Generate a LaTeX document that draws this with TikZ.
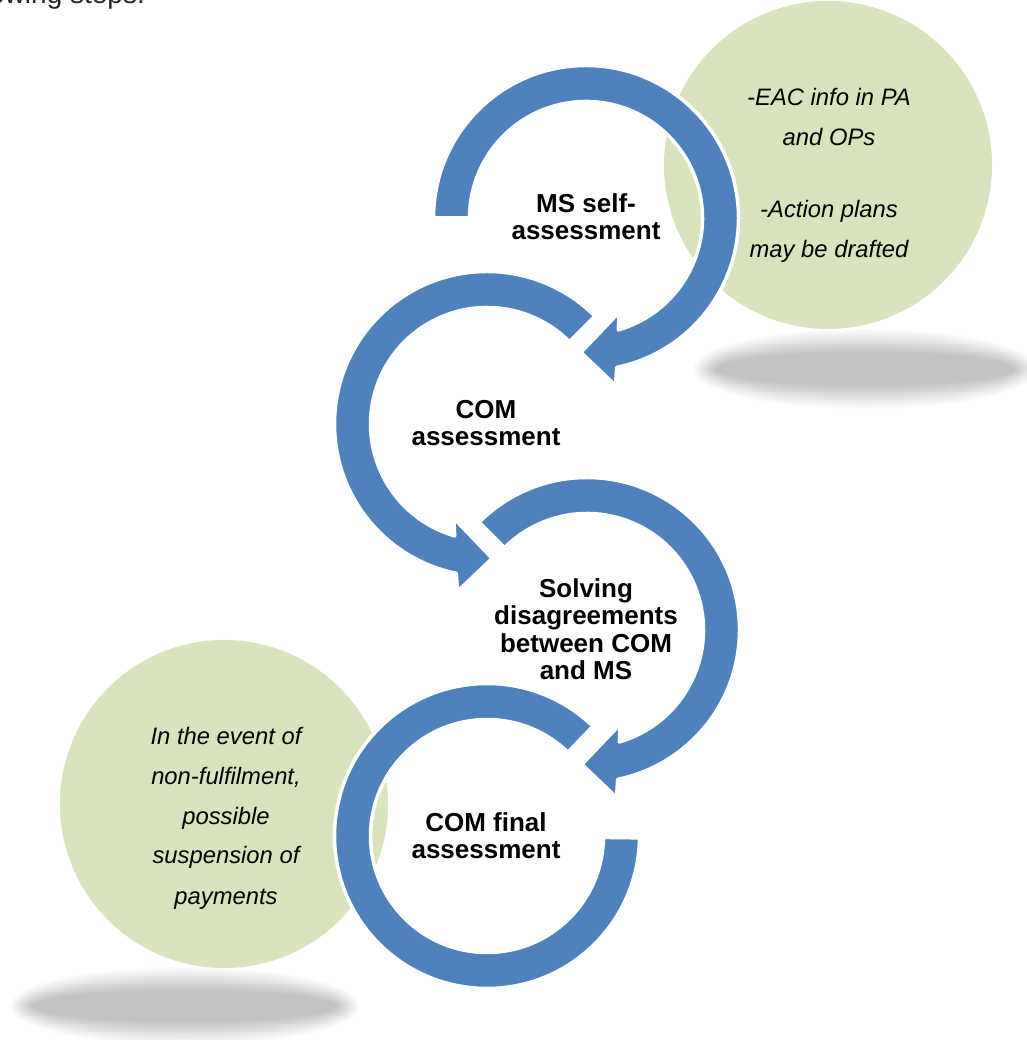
\documentclass[tikz,border=0pt]{standalone}
\usepackage{fontspec}
\setmainfont{Liberation Sans}
\definecolor{arrowblue}{RGB}{79,129,189}
\definecolor{notegreen}{RGB}{215,228,189}
\tikzset{
  ring/.style={fill=arrowblue, draw=white, line width=3.5pt, line join=round},
  notedisc/.style={fill=notegreen},
  steptext/.style={font=\fontsize{26}{28}\selectfont\bfseries, anchor=base, inner sep=0pt, text=black},
  notetext/.style={font=\fontsize{23.8}{26}\selectfont\itshape, anchor=base, inner sep=0pt, text=black},
  toptext/.style={font=\fontsize{28}{30}\selectfont, anchor=base west, inner sep=0pt, text=black!85},
}
\begin{document}
\begin{tikzpicture}[x=1pt,y=1pt]
\useasboundingbox (0,0) rectangle (1026,1040);
\fill[white] (0,0) rectangle (1026,1040);

% fragment of the preceding sentence, cut by the top edge
\node[toptext] (topline) at (-11,1036) {owing steps:};

% soft shadows
\foreach \i in {0,...,19}{
  \fill[black, fill opacity=0.013] (865,671) ellipse [x radius={172-1.2*\i}, y radius={40-1.2*\i}];
  \fill[black, fill opacity=0.013] (185,34) ellipse [x radius={175-1.2*\i}, y radius={39-1.2*\i}];
}

% green notes
\fill[notedisc] (828,875) circle [radius=164];
\fill[notedisc] (224,236) circle [radius=164];

% ring 1 : MS self-assessment (clockwise)
\begin{scope}[shift={(586,822)}]
\path[ring] (180:152.5pt) arc[start angle=180, end angle=-78.4, radius=152.5pt]
  -- (-80:170pt) -- (-92.2:134.5pt) -- (-70.6:100pt) -- (-73.9:116.5pt)
  arc[start angle=-73.9, end angle=180, radius=116.5pt] -- cycle;
\end{scope}

% ring 2 : COM assessment (counter-clockwise)
\begin{scope}[shift={(487,616)}]
\path[ring] (45:152.5pt) arc[start angle=45, end angle=258.4, radius=152.5pt]
  -- (260:170pt) -- (272.2:134.5pt) -- (250.6:100pt) -- (253.9:116.5pt)
  arc[start angle=253.9, end angle=45, radius=116.5pt] -- cycle;
\end{scope}

% ring 3 : Solving disagreements (clockwise)
\begin{scope}[shift={(587,410)}]
\path[ring] (135:152.5pt) arc[start angle=135, end angle=-78.4, radius=152.5pt]
  -- (-80:170pt) -- (-92.2:134.5pt) -- (-70.6:100pt) -- (-73.9:116.5pt)
  arc[start angle=-73.9, end angle=135, radius=116.5pt] -- cycle;
\end{scope}

% ring 4 : COM final assessment (no head)
\begin{scope}[shift={(487,204)}]
\path[ring] (46:152.5pt) arc[start angle=46, end angle=359.3, radius=152.5pt]
  -- (359.3:116.5pt)
  arc[start angle=359.3, end angle=46, radius=116.5pt] -- cycle;
\end{scope}

% step labels
\node[steptext] (s1a) at (586,827.3) {MS self-};
\node[steptext] (s1b) at (586,800) {assessment};
\node[steptext] (s2a) at (486,621) {COM};
\node[steptext] (s2b) at (486,594) {assessment};
\node[steptext] (s3a) at (586,442) {Solving};
\node[steptext] (s3b) at (586,415) {disagreements};
\node[steptext] (s3c) at (586,387) {between COM};
\node[steptext] (s3d) at (586,360) {and MS};
\node[steptext] (s4a) at (486,208) {COM final};
\node[steptext] (s4b) at (486,181) {assessment};

% note texts
\node[notetext] (n1a) at (829,934) {-EAC info in PA};
\node[notetext] (n1b) at (829,894) {and OPs};
\node[notetext] (n1c) at (829,822) {-Action plans};
\node[notetext] (n1d) at (829,782) {may be drafted};
\node[notetext] (n2a) at (226,295) {In the event of};
\node[notetext] (n2b) at (226,255) {non-fulfilment,};
\node[notetext] (n2c) at (226,215) {possible};
\node[notetext] (n2d) at (226,176) {suspension of};
\node[notetext] (n2e) at (226,135) {payments};
\end{tikzpicture}
\end{document}
